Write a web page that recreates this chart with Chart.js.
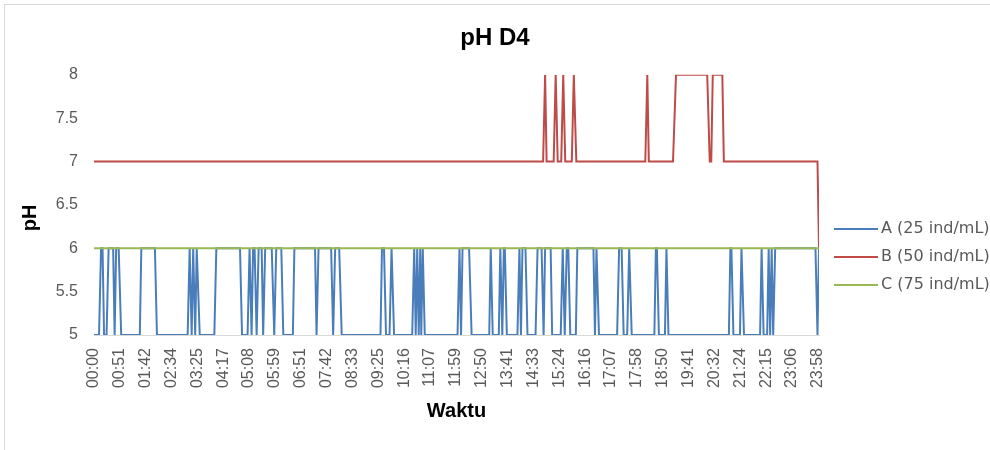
<!DOCTYPE html>
<html>
<head>
<meta charset="utf-8">
<script src="https://cdn.jsdelivr.net/npm/chart.js@4.4.1/dist/chart.umd.min.js"></script>
<style>
html,body{margin:0;padding:0;background:#fff;overflow:hidden;}
#wrap{position:relative;width:990px;height:450px;overflow:hidden;}
#frame{position:absolute;left:4px;top:4px;width:1200px;height:800px;border:1px solid #d9d9d9;pointer-events:none;}
canvas{display:block;}
</style>
</head>
<body>
<div id="wrap"><canvas id="c" width="990" height="450"></canvas><div id="frame"></div></div>
<script>
// ---- data (time in minutes after 00:00, pH value) ----
const seriesNames = ['A (25 ind/mL)', 'B (50 ind/mL)', 'C (75 ind/mL)'];
const tickLabels = ['00:00','00:51','01:42','02:34','03:25','04:17','05:08','05:59','06:51','07:42',
  '08:33','09:25','10:16','11:07','11:59','12:50','13:41','14:33','15:24','16:16','17:07','17:58',
  '18:50','19:41','20:32','21:24','22:15','23:06','23:58'];
const yTicks = [5, 5.5, 6, 6.5, 7, 7.5, 8];

const aTime = [0,10,14,17,20,25,29,38,41,44,49,54,91,94,121,125,186,190,194,197,201,204,210,239,243,
  290,294,305,309,313,316,319,323,327,333,336,340,353,358,362,372,376,395,398,439,442,446,471,475,479,
  487,492,569,572,576,580,587,591,596,632,636,639,642,645,648,650,653,657,722,726,729,732,745,750,
  785,788,792,804,807,811,814,816,820,841,845,848,851,857,861,877,881,889,893,896,907,910,927,931,
  935,939,942,946,957,960,992,995,998,1003,1039,1043,1048,1052,1059,1063,1068,1113,1116,1118,1122,
  1134,1137,1141,1261,1264,1266,1270,1283,1286,1291,1323,1326,1330,1337,1340,1343,1346,1349,1353,
  1433,1437,1440];
const aPH = [5,5,6,6,5,5,6,6,5,6,6,5,5,6,6,5,5,6,5,6,5,6,5,5,6,
  6,5,5,6,5,6,6,5,6,6,5,6,6,5,6,6,5,5,6,6,5,6,6,5,6,
  6,5,5,6,6,5,5,6,5,5,6,5,6,5,6,5,6,5,5,6,5,6,6,5,
  5,6,5,5,6,5,6,6,5,5,6,5,6,6,5,5,6,6,5,6,6,5,5,6,
  5,6,6,5,5,6,6,5,6,5,5,6,6,5,5,6,5,5,6,6,5,
  5,6,5,5,6,6,5,5,6,5,5,6,5,5,6,5,6,5,6,
  6,5,6];

const bTime = [0,892,896,899,913,917,921,928,932,936,949,953,958,1095,1099,1102,1150,1156,1218,1223,
  1226,1229,1248,1251,1437,1440];
const bPH = [7,7,8,7,7,8,7,7,8,7,7,8,7,7,8,7,7,8,8,7,7,8,8,7,7,6];

const cTime = [0, 1440];
const cPH = [6, 6];

// ---- helpers ----
const tickMinutes = tickLabels.map(s => { const [h, m] = s.split(':').map(Number); return h * 60 + m; });
const toXY = (t, v) => t.map((x, i) => ({x: x, y: v[i]}));

function hasFont(name) {
  const c = document.createElement('canvas').getContext('2d');
  const s = '00:00 abcMWil';
  c.font = '40px monospace';
  const w1 = c.measureText(s).width;
  c.font = '40px "' + name + '", monospace';
  return Math.abs(c.measureText(s).width - w1) > 0.5;
}
const narrow = hasFont('Liberation Sans Narrow');
const xTickFont = narrow ? {family: '"Liberation Sans Narrow"', size: 19} : {family: '"Liberation Sans"', size: 16};

Chart.defaults.font.family = '"Liberation Sans", Arial, sans-serif';

const sideDecor = {
  id: 'sideDecor',
  afterDraw(chart) {
    const ctx = chart.ctx;
    const ca = chart.chartArea;
    ctx.save();
    // legend
    chart.data.datasets.forEach((ds, i) => {
      const y = 229 + i * 28;
      ctx.strokeStyle = ds.borderColor;
      ctx.lineWidth = 2;
      ctx.beginPath();
      ctx.moveTo(ca.right + 15, y);
      ctx.lineTo(ca.right + 59, y);
      ctx.stroke();
      ctx.fillStyle = '#595959';
      ctx.font = '16px "DejaVu Sans"';
      ctx.textBaseline = 'middle';
      ctx.textAlign = 'left';
      ctx.fillText(ds.label, ca.right + 62, y);
    });
    // y axis title
    ctx.translate(30, 218);
    ctx.rotate(-Math.PI / 2);
    ctx.fillStyle = '#000';
    ctx.font = 'bold 20px "Liberation Sans"';
    ctx.textAlign = 'center';
    ctx.textBaseline = 'middle';
    ctx.fillText('pH', 0, 0);
    ctx.restore();
  }
};

new Chart(document.getElementById('c'), {
  type: 'line',
  data: {
    datasets: [
      {label: seriesNames[0], data: toXY(aTime, aPH), borderColor: '#4A7EBB', backgroundColor: '#4A7EBB', order: 3},
      {label: seriesNames[1], data: toXY(bTime, bPH), borderColor: '#BE4B48', backgroundColor: '#BE4B48', order: 2},
      {label: seriesNames[2], data: toXY(cTime, cPH), borderColor: '#98B954', backgroundColor: '#98B954', order: 1}
    ]
  },
  options: {
    responsive: false,
    animation: false,
    devicePixelRatio: 1,
    layout: {padding: 0},
    elements: {
      line: {borderWidth: 2, tension: 0, fill: false},
      point: {radius: 0, hoverRadius: 0}
    },
    plugins: {
      legend: {display: false},
      tooltip: {enabled: false},
      title: {display: true, text: 'pH D4', color: '#000', font: {size: 24, weight: 'bold'}, padding: {top: 24, bottom: 22}}
    },
    scales: {
      x: {
        type: 'linear', min: 0, max: 1440,
        grid: {display: false, drawTicks: false},
        border: {display: true, color: '#d9d9d9', width: 1},
        afterBuildTicks: s => { s.ticks = tickMinutes.map(v => ({value: v})); },
        afterFit: s => { s.height = 115; },
        ticks: {autoSkip: false, minRotation: 90, maxRotation: 90, padding: 13, color: '#595959', font: xTickFont,
          callback: (v, i) => tickLabels[i]},
        title: {display: true, text: 'Waktu', color: '#000', font: {size: 20, weight: 'bold'}, padding: {top: 0, bottom: 27}}
      },
      y: {
        min: 5, max: 8,
        grid: {display: false, drawTicks: false},
        border: {display: false},
        afterBuildTicks: s => { s.ticks = yTicks.map(v => ({value: v})); },
        afterFit: s => { s.width = 94; },
        ticks: {padding: 16, color: '#595959', font: {size: 16}, callback: (v, i) => String(yTicks[i])},
        title: {display: false}
      },
      side: {
        type: 'linear', position: 'right', display: true,
        grid: {display: false, drawTicks: false},
        border: {display: false},
        ticks: {display: false},
        afterFit: s => { s.width = 171; }
      }
    }
  },
  plugins: [sideDecor]
});
</script>
</body>
</html>
